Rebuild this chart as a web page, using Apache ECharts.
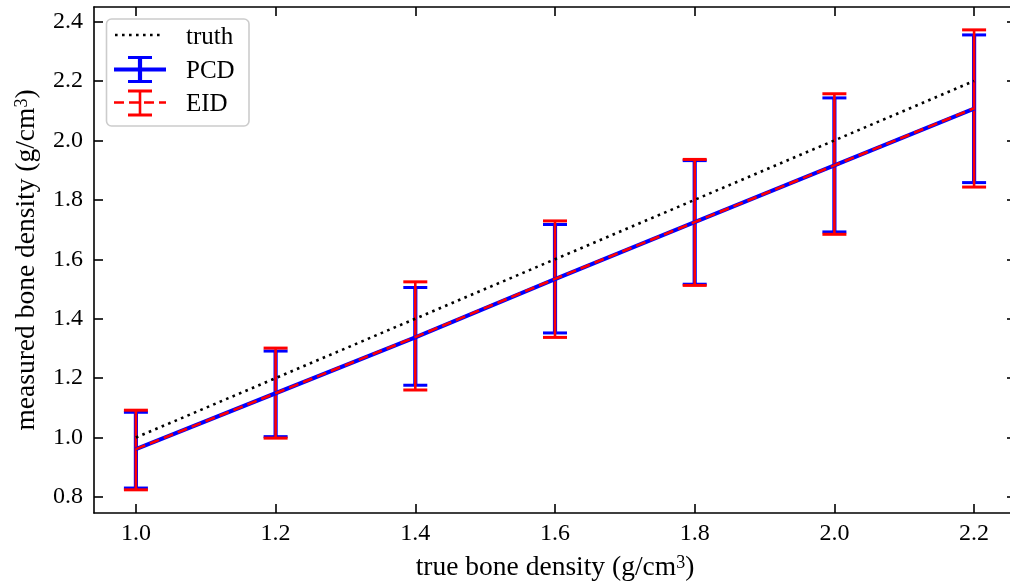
<!DOCTYPE html>
<html>
<head>
<meta charset="utf-8">
<script src="https://cdn.jsdelivr.net/npm/echarts@6/dist/echarts.min.js"></script>
<style>
  html, body { margin: 0; padding: 0; background: #fff; }
  #chart { width: 1010px; height: 583px; }
</style>
</head>
<body>
<div id="chart"></div>
<script>
// True phantom densities (g/cm^3)
const trueDensity = [1.0, 1.2, 1.4, 1.6, 1.8, 2.0, 2.2];

// PCD: mean measured density and error-bar limits
const pcdMean = [0.961, 1.149, 1.337, 1.533, 1.725, 1.916, 2.107];
const pcdLow  = [0.830, 1.003, 1.176, 1.352, 1.516, 1.692, 1.858];
const pcdHigh = [1.085, 1.291, 1.505, 1.717, 1.932, 2.143, 2.355];

// EID: mean measured density and error-bar limits
const eidMean = [0.961, 1.149, 1.338, 1.534, 1.725, 1.916, 2.108];
const eidLow  = [0.824, 0.998, 1.160, 1.337, 1.512, 1.684, 1.843];
const eidHigh = [1.092, 1.301, 1.524, 1.729, 1.936, 2.157, 2.372];

// Axis tick values
const xTicks = [1.0, 1.2, 1.4, 1.6, 1.8, 2.0, 2.2];
const yTicks = [0.8, 1.0, 1.2, 1.4, 1.6, 1.8, 2.0, 2.2, 2.4];

const FONT = '"Liberation Serif", "Times New Roman", serif';
const BLUE = '#0000ff';
const RED = '#ff0000';

const chart = echarts.init(document.getElementById('chart'), null, { renderer: 'canvas' });

function errorBarRenderer(color, width, capHalf, capWidth) {
  return function (params, api) {
    const x = api.value(0);
    const lo = api.coord([x, api.value(1)]);
    const hi = api.coord([x, api.value(2)]);
    const style = { stroke: color, lineWidth: width, lineCap: 'butt' };
    const capStyle = { stroke: color, lineWidth: capWidth, lineCap: 'butt' };
    return {
      type: 'group',
      children: [
        { type: 'line', shape: { x1: lo[0], y1: lo[1], x2: hi[0], y2: hi[1] }, style: style },
        { type: 'line', shape: { x1: lo[0] - capHalf, y1: lo[1], x2: lo[0] + capHalf, y2: lo[1] }, style: capStyle },
        { type: 'line', shape: { x1: hi[0] - capHalf, y1: hi[1], x2: hi[0] + capHalf, y2: hi[1] }, style: capStyle }
      ]
    };
  };
}

const axisLineStyle = { color: '#000', width: 1.6 };
const tickStyle = { color: '#000', width: 1.6 };
const fmt = v => Number(v).toFixed(1);

const xRange = { min: 0.94, max: 2.26 };
const yRange = { min: 0.746, max: 2.449 };

const nameStyle = {
  color: '#000', fontFamily: FONT, fontSize: 27.5,
  rich: { sup: { fontFamily: FONT, fontSize: 18, verticalAlign: 'top', color: '#000' } }
};

const option = {
  animation: false,
  backgroundColor: '#fff',
  grid: { left: 94, top: 7, width: 922, height: 506, containLabel: false, outerBoundsMode: 'none' },
  xAxis: [
    {
      type: 'value', position: 'bottom', ...xRange,
      axisLine: { show: true, onZero: false, lineStyle: axisLineStyle },
      axisTick: { show: true, inside: true, length: 9, lineStyle: tickStyle, customValues: xTicks },
      axisLabel: { show: true, customValues: xTicks, formatter: fmt, color: '#000',
                   fontFamily: FONT, fontSize: 24, margin: 9 },
      splitLine: { show: false },
      name: 'true bone density (g/cm{sup|3})',
      nameLocation: 'middle', nameGap: 41,
      nameTextStyle: nameStyle
    },
    {
      type: 'value', position: 'top', ...xRange,
      axisLine: { show: true, onZero: false, lineStyle: axisLineStyle },
      axisTick: { show: true, inside: true, length: 9, lineStyle: tickStyle, customValues: xTicks },
      axisLabel: { show: false, customValues: xTicks },
      splitLine: { show: false }
    }
  ],
  yAxis: [
    {
      type: 'value', position: 'left', ...yRange,
      axisLine: { show: true, onZero: false, lineStyle: axisLineStyle },
      axisTick: { show: true, inside: true, length: 9, lineStyle: tickStyle, customValues: yTicks },
      axisLabel: { show: true, customValues: yTicks, formatter: fmt, color: '#000',
                   fontFamily: FONT, fontSize: 24, margin: 11 },
      splitLine: { show: false },
      name: 'measured bone density (g/cm{sup|3})',
      nameLocation: 'middle', nameGap: 53,
      nameTextStyle: nameStyle
    },
    {
      type: 'value', position: 'right', ...yRange,
      axisLine: { show: true, onZero: false, lineStyle: axisLineStyle },
      axisTick: { show: true, inside: true, length: 9, lineStyle: tickStyle, customValues: yTicks },
      axisLabel: { show: false, customValues: yTicks },
      splitLine: { show: false }
    }
  ],
  series: [
    {
      name: 'truth', type: 'line', xAxisIndex: 0, yAxisIndex: 0,
      data: trueDensity.map(v => [v, v]),
      showSymbol: false, silent: true,
      lineStyle: { color: '#000', width: 2.6, type: [2.6, 4.4], cap: 'butt' }
    },
    {
      name: 'PCD', type: 'line', xAxisIndex: 0, yAxisIndex: 0,
      data: trueDensity.map((x, i) => [x, pcdMean[i]]),
      showSymbol: false, silent: true,
      lineStyle: { color: BLUE, width: 4.2, cap: 'butt' }
    },
    {
      name: 'PCD err', type: 'custom', xAxisIndex: 0, yAxisIndex: 0,
      data: trueDensity.map((x, i) => [x, pcdLow[i], pcdHigh[i]]),
      encode: { x: 0, y: [1, 2] },
      renderItem: errorBarRenderer(BLUE, 4.2, 12, 3), silent: true
    },
    {
      name: 'EID', type: 'line', xAxisIndex: 0, yAxisIndex: 0,
      data: trueDensity.map((x, i) => [x, eidMean[i]]),
      showSymbol: false, silent: true,
      lineStyle: { color: RED, width: 2.6, type: [10, 5], cap: 'butt' }
    },
    {
      name: 'EID err', type: 'custom', xAxisIndex: 0, yAxisIndex: 0,
      data: trueDensity.map((x, i) => [x, eidLow[i], eidHigh[i]]),
      encode: { x: 0, y: [1, 2] },
      renderItem: errorBarRenderer(RED, 2.6, 12, 3), silent: true
    }
  ],
  graphic: [
    {
      type: 'group', x: 0, y: 0, z: 100,
      children: [
        { type: 'rect', shape: { x: 106.5, y: 19, width: 142.5, height: 107, r: 5 },
          style: { fill: 'rgba(255,255,255,0.85)', stroke: '#cccccc', lineWidth: 1.6 } },
        // truth
        { type: 'line', shape: { x1: 115, y1: 35, x2: 164, y2: 35 },
          style: { stroke: '#000', lineWidth: 2.6, lineDash: [2.6, 4.4] } },
        { type: 'text', style: { x: 186, y: 37, text: 'truth', font: '25px ' + FONT, fill: '#000', verticalAlign: 'middle' } },
        // PCD
        { type: 'line', shape: { x1: 114, y1: 69.5, x2: 166, y2: 69.5 }, style: { stroke: BLUE, lineWidth: 4.2 } },
        { type: 'line', shape: { x1: 140, y1: 57.5, x2: 140, y2: 81.5 }, style: { stroke: BLUE, lineWidth: 4.2 } },
        { type: 'line', shape: { x1: 128, y1: 57.5, x2: 152, y2: 57.5 }, style: { stroke: BLUE, lineWidth: 3 } },
        { type: 'line', shape: { x1: 128, y1: 81.5, x2: 152, y2: 81.5 }, style: { stroke: BLUE, lineWidth: 3 } },
        { type: 'text', style: { x: 186, y: 71, text: 'PCD', font: '25px ' + FONT, fill: '#000', verticalAlign: 'middle' } },
        // EID
        { type: 'line', shape: { x1: 114, y1: 102.5, x2: 166, y2: 102.5 },
          style: { stroke: RED, lineWidth: 2.6, lineDash: [10, 5] } },
        { type: 'line', shape: { x1: 140, y1: 91, x2: 140, y2: 115 }, style: { stroke: RED, lineWidth: 2.6 } },
        { type: 'line', shape: { x1: 128, y1: 91, x2: 152, y2: 91 }, style: { stroke: RED, lineWidth: 3 } },
        { type: 'line', shape: { x1: 128, y1: 115, x2: 152, y2: 115 }, style: { stroke: RED, lineWidth: 3 } },
        { type: 'text', style: { x: 186, y: 104, text: 'EID', font: '25px ' + FONT, fill: '#000', verticalAlign: 'middle' } }
      ]
    }
  ]
};

chart.setOption(option);
</script>
</body>
</html>
